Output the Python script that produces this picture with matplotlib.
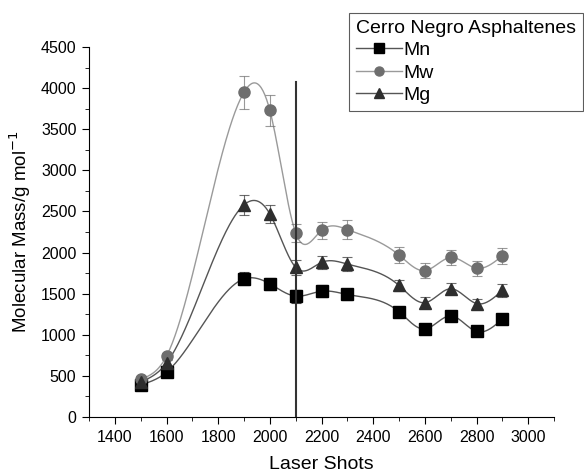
import numpy as np
import matplotlib.pyplot as plt
from matplotlib.ticker import MultipleLocator

plt.rcParams['font.family'] = ['Liberation Sans', 'DejaVu Sans']

# Data
shots = [1500, 1600, 1900, 2000, 2100, 2200, 2300, 2500, 2600, 2700, 2800, 2900]
mn = [390, 545, 1680, 1620, 1470, 1530, 1490, 1280, 1070, 1230, 1040, 1190]
mw = [460, 740, 3950, 3730, 2240, 2270, 2280, 1970, 1780, 1940, 1810, 1960]
mg = [425, 655, 2580, 2470, 1820, 1880, 1860, 1600, 1390, 1560, 1380, 1540]
mn_err = [40, 40, 80, 70, 80, 70, 70, 60, 50, 50, 40, 60]
mw_err = [40, 40, 200, 190, 110, 100, 110, 100, 90, 90, 90, 100]
mg_err = [40, 40, 120, 110, 90, 80, 80, 70, 70, 70, 60, 80]
vline_x = 2100
vline_top = 4080


def natural_spline(x, y, n=400):
    # smooth connecting line, like Origin's spline connection
    x = np.asarray(x, float)
    y = np.asarray(y, float)
    k = len(x)
    h = np.diff(x)
    A = np.zeros((k, k))
    b = np.zeros(k)
    A[0, 0] = A[-1, -1] = 1
    for i in range(1, k - 1):
        A[i, i - 1] = h[i - 1]
        A[i, i] = 2 * (h[i - 1] + h[i])
        A[i, i + 1] = h[i]
        b[i] = 6 * ((y[i + 1] - y[i]) / h[i] - (y[i] - y[i - 1]) / h[i - 1])
    M = np.linalg.solve(A, b)
    xs = np.linspace(x[0], x[-1], n)
    idx = np.clip(np.searchsorted(x, xs) - 1, 0, k - 2)
    x0, x1 = x[idx], x[idx + 1]
    hh = x1 - x0
    t0 = x1 - xs
    t1 = xs - x0
    ys = (M[idx] * t0**3 + M[idx + 1] * t1**3) / (6 * hh) \
        + (y[idx] / hh - M[idx] * hh / 6) * t0 \
        + (y[idx + 1] / hh - M[idx + 1] * hh / 6) * t1
    return xs, ys


fig = plt.figure(figsize=(5.84, 4.73), dpi=100)
ax = fig.add_axes([89 / 584, 56 / 473, 465 / 584, 370 / 473])

series = [
    ("Mn", mn, mn_err, "s", "#000000", "#555555"),
    ("Mw", mw, mw_err, "o", "#6e6e6e", "#9a9a9a"),
    ("Mg", mg, mg_err, "^", "#2e2e2e", "#555555"),
]

for name, vals, err, mk, mcol, lcol in series:
    xs, ys = natural_spline(shots, vals)
    ax.plot(xs, ys, color=lcol, lw=1.0, zorder=2)
    ax.errorbar(shots, vals, yerr=err, fmt="none", ecolor=mcol, elinewidth=0.8,
                capsize=3.5, capthick=0.8, alpha=0.7, zorder=3)
    ax.plot(shots, vals, ls="none", marker=mk, ms=8, color=mcol, zorder=4)
    ax.plot([], [], color=lcol, lw=1.0, marker=mk, ms=6.5, mfc=mcol, mec=mcol, label=name)

ax.plot([vline_x, vline_x], [0, vline_top], color="#333333", lw=1.5, zorder=5)

ax.set_xlim(1300, 3100)
ax.set_ylim(0, 4500)
ax.xaxis.set_major_locator(MultipleLocator(200))
ax.xaxis.set_minor_locator(MultipleLocator(100))
ax.yaxis.set_major_locator(MultipleLocator(500))
ax.yaxis.set_minor_locator(MultipleLocator(250))
ax.spines["top"].set_visible(False)
ax.spines["right"].set_visible(False)
ax.tick_params(which="major", length=5, labelsize=11.5, pad=4)
ax.tick_params(which="minor", length=3)

ax.set_xlabel("Laser Shots", fontsize=14, labelpad=8)
ax.set_ylabel("Molecular Mass/g mol$^{-1}$", fontsize=13.5, labelpad=6)

leg = ax.legend(title="Cerro Negro Asphaltenes", loc="upper left",
                bbox_to_anchor=(349 / 584, 1 - 13 / 473), bbox_transform=fig.transFigure,
                fontsize=14, title_fontsize=14,
                frameon=True, fancybox=False, edgecolor="#333333",
                handlelength=2.4, handletextpad=0.05, borderpad=0.35,
                labelspacing=0.25, alignment="left", borderaxespad=0)
leg.get_frame().set_linewidth(0.8)

fig.savefig("out.png", dpi=100)
